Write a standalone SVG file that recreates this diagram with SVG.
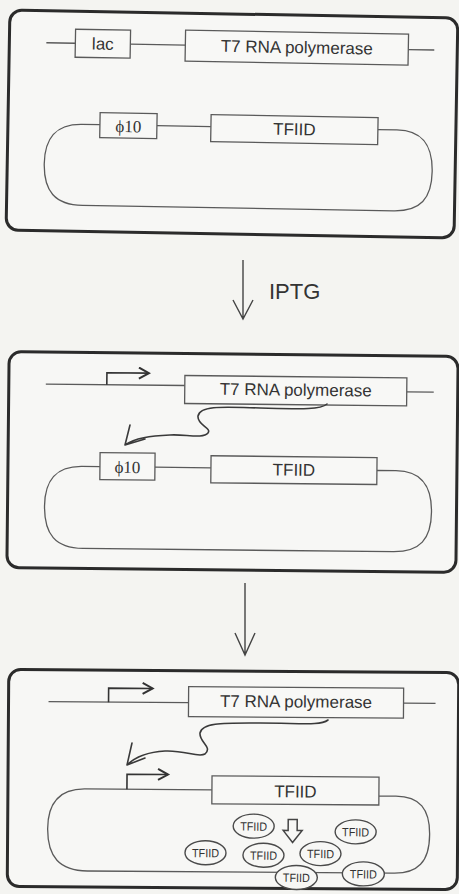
<svg xmlns="http://www.w3.org/2000/svg" width="459" height="894" viewBox="0 0 459 894">
<style>
.bg{fill:#f4f4f1}
.panel{fill:#f7f7f5;stroke:#2b2b2b;stroke-width:3}
.ln{fill:none;stroke:#5a5a5a;stroke-width:1.3}
.box{fill:#f8f8f6;stroke:#5a5a5a;stroke-width:1.3}
.t{font-family:"Liberation Sans",Arial,sans-serif;font-size:17px;fill:#333;text-anchor:middle}
.ts{font-family:"Liberation Serif","Times New Roman",serif;font-size:17px;fill:#333;text-anchor:middle}
.tsm{font-family:"Liberation Sans",Arial,sans-serif;font-size:12px;fill:#333;text-anchor:middle}
.ov{fill:#f7f7f5;stroke:#4a4a4a;stroke-width:1.4}
.wv{fill:none;stroke:#3a3a3a;stroke-width:1.6;stroke-linecap:round;stroke-linejoin:round}
.big{fill:none;stroke:#444;stroke-width:1.4}
</style>
<defs>
<marker id="chev" markerWidth="14" markerHeight="14" refX="11" refY="6" orient="auto" markerUnits="userSpaceOnUse">
<path d="M1,0.5 L11,6 L1,11.5" fill="none" stroke="#333" stroke-width="2"/>
</marker>
</defs>
<rect class="bg" x="0" y="0" width="459" height="894"/>

<g id="panel1" transform="rotate(1 232 122)">
<rect class="panel" x="8" y="14" width="448" height="220" rx="12"/>
<path class="ln" d="M45,46 H74 M129,46 H184 M407,46.5 H433"/>
<g id="lac"><rect class="box" x="74" y="32" width="55" height="28"/><text class="t" x="101.5" y="52">lac</text></g>
<g id="t7-1"><rect class="box" x="184" y="31" width="223" height="31"/><text class="t" x="295.5" y="52">T7 RNA polymerase</text></g>
<path class="ln" d="M100,127 H82 C55,127 45,142 45,167 C45,194 56,208 84,208 H395 C422,208 433,195 433,168 C433,142 423,127 397,127 H378 M157,127 H211"/>
<g id="phi10-1"><rect class="box" x="100" y="115" width="57" height="25"/><text class="ts" x="128.5" y="134">ϕ10</text></g>
<g id="tfiid-1"><rect class="box" x="211" y="115" width="167" height="27"/><text class="t" x="294.5" y="134">TFIID</text></g>
</g>

<g id="panel2" transform="rotate(0.6 232 462)">
<rect class="panel" x="8" y="354" width="449" height="216" rx="12"/>
<path class="ln" d="M45,386 H184 M406,390 H433"/>
<path class="ln" d="M106,386 V374 H148" marker-end="url(#chev)" style="stroke:#333;stroke-width:1.6"/>
<g id="t7-2"><rect class="box" x="184" y="376" width="222" height="28"/><text class="t" x="295" y="395">T7 RNA polymerase</text></g>
<path class="ln" d="M100,468 H82 C55,468 45,483 45,508 C45,536 56,550 84,550 H394 C421,550 432,537 432,510 C432,484 422,469 396,469 H377 M155,468 H211"/>
<g id="phi10-2"><rect class="box" x="100" y="454" width="55" height="27"/><text class="ts" x="127.5" y="474">ϕ10</text></g>
<g id="tfiid-2"><rect class="box" x="211" y="456" width="166" height="27"/><text class="t" x="294" y="475">TFIID</text></g>
</g>

<g id="panel3" transform="rotate(0.4 232 780)">
<rect class="panel" x="8" y="671" width="450" height="217" rx="12"/>
<path class="ln" d="M48,703 H188 M403,702 H435"/>
<path class="ln" d="M108,703 V689 H152" marker-end="url(#chev)" style="stroke:#333;stroke-width:1.6"/>
<g id="t7-3"><rect class="box" x="188" y="687" width="215" height="30"/><text class="t" x="295.5" y="707">T7 RNA polymerase</text></g>
<path class="ln" d="M212,790 H85 C58,790 48,806 48,830 C48,858 60,872 88,872 H392 C419,873 430,860 430,833 C430,808 420,795 396,795 H379"/>
<path class="ln" d="M127,790 V775 H168" marker-end="url(#chev)" style="stroke:#333;stroke-width:1.6"/>
<g id="tfiid-3"><rect class="box" x="212" y="776" width="167" height="28"/><text class="t" x="295.5" y="797">TFIID</text></g>
<g id="arrow-hollow"><path d="M288.5,819 H297.5 V830 H302.5 L293,842 L283.5,830 H288.5 Z" fill="#f7f7f5" stroke="#444" stroke-width="1.5" stroke-linejoin="miter"/></g>
<g id="ov1"><ellipse class="ov" cx="254" cy="826" rx="20.5" ry="12"/><text class="tsm" x="254" y="830.5" textLength="27" lengthAdjust="spacingAndGlyphs">TFIID</text></g>
<g id="ov2"><ellipse class="ov" cx="356" cy="831" rx="20.5" ry="12"/><text class="tsm" x="356" y="835.5" textLength="27" lengthAdjust="spacingAndGlyphs">TFIID</text></g>
<g id="ov3"><ellipse class="ov" cx="206" cy="853" rx="20.5" ry="12"/><text class="tsm" x="206" y="857.5" textLength="27" lengthAdjust="spacingAndGlyphs">TFIID</text></g>
<g id="ov4"><ellipse class="ov" cx="264" cy="855" rx="20.5" ry="12"/><text class="tsm" x="264" y="859.5" textLength="27" lengthAdjust="spacingAndGlyphs">TFIID</text></g>
<g id="ov5"><ellipse class="ov" cx="321" cy="853" rx="20.5" ry="12"/><text class="tsm" x="321" y="857.5" textLength="27" lengthAdjust="spacingAndGlyphs">TFIID</text></g>
<g id="ov6"><ellipse class="ov" cx="297" cy="877" rx="21" ry="12"/><text class="tsm" x="297" y="881.5" textLength="27" lengthAdjust="spacingAndGlyphs">TFIID</text></g>
<g id="ov7"><ellipse class="ov" cx="364" cy="873" rx="21" ry="12"/><text class="tsm" x="364" y="877.5" textLength="27" lengthAdjust="spacingAndGlyphs">TFIID</text></g>
</g>

<g id="connectors">
<path class="big" d="M243,260 V319 M233,300 L243,319 L253,300"/>
<text id="iptg" x="269" y="299" font-family="Liberation Sans,Arial,sans-serif" font-size="22" fill="#333">IPTG</text>
<path class="big" d="M245,583 V655 M235,633 L245,655 L255,633"/>
<path class="wv" d="M327,404 C320,410 300,409 260,408 C225,407 200,405 198,416 C197,425 212,428 208,433 C203,439 185,434 170,435 C150,436 135,438 125,445 M130,425 L125,445 L145,439"/>
<path class="wv" d="M328,720 C320,726 300,723 260,723 C225,723 202,722 200,733 C199,742 213,747 205,754 C198,758 185,750 165,751 C148,752 135,757 127,765 M132,743 L127,765 L145,758"/>
</g>
</svg>
